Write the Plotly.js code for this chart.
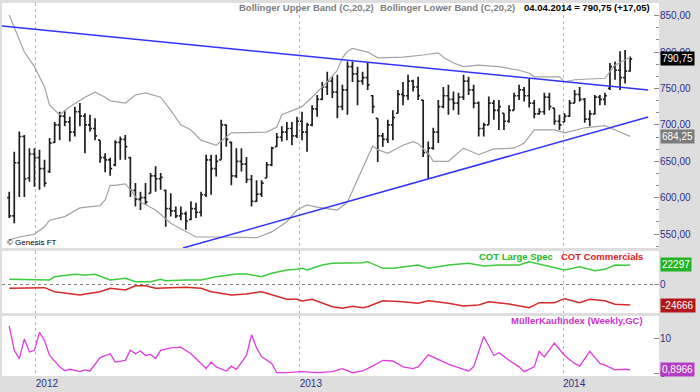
<!DOCTYPE html>
<html><head><meta charset="utf-8">
<script src="https://cdn.plot.ly/plotly-3.0.1.min.js"></script>
<style>html,body{margin:0;padding:0;background:#dedede;}#chart{width:700px;height:392px;}</style>
</head><body><div id="chart"></div>
<script>
// ---- weekly OHLC ----
const dates = ['2011-11-25','2011-12-02','2011-12-09','2011-12-16','2011-12-23','2011-12-30',
'2012-01-06','2012-01-13','2012-01-20','2012-01-27','2012-02-03','2012-02-10','2012-02-17','2012-02-24',
'2012-03-02','2012-03-09','2012-03-16','2012-03-23','2012-03-30','2012-04-06','2012-04-13','2012-04-20','2012-04-27',
'2012-05-04','2012-05-11','2012-05-18','2012-05-25','2012-06-01','2012-06-08','2012-06-15','2012-06-22','2012-06-29',
'2012-07-06','2012-07-13','2012-07-20','2012-07-27','2012-08-03','2012-08-10','2012-08-17','2012-08-24','2012-08-31',
'2012-09-07','2012-09-14','2012-09-21','2012-09-28','2012-10-05','2012-10-12','2012-10-19','2012-10-26',
'2012-11-02','2012-11-09','2012-11-16','2012-11-23','2012-11-30','2012-12-07','2012-12-14','2012-12-21','2012-12-28',
'2013-01-04','2013-01-11','2013-01-18','2013-01-25','2013-02-01','2013-02-08','2013-02-15','2013-02-22',
'2013-03-01','2013-03-08','2013-03-15','2013-03-22','2013-03-29','2013-04-05','2013-04-12','2013-04-19','2013-04-26',
'2013-05-03','2013-05-10','2013-05-17','2013-05-24','2013-05-31','2013-06-07','2013-06-14','2013-06-21','2013-06-28',
'2013-07-05','2013-07-12','2013-07-19','2013-07-26','2013-08-02','2013-08-09','2013-08-16','2013-08-23','2013-08-30',
'2013-09-06','2013-09-13','2013-09-20','2013-09-27','2013-10-04','2013-10-11','2013-10-18','2013-10-25',
'2013-11-01','2013-11-08','2013-11-15','2013-11-22','2013-11-29','2013-12-06','2013-12-13','2013-12-20','2013-12-27',
'2014-01-03','2014-01-10','2014-01-17','2014-01-24','2014-01-31','2014-02-07','2014-02-14','2014-02-21','2014-02-28',
'2014-03-07','2014-03-14','2014-03-21','2014-03-28','2014-04-04'];
const openP = [600,575,648,684,627,660,655,640,636,676,700,712,704,690,718,712,700,695,679,655,652,645,676,680,655,610,598,600,606,630,626,610,585,582,575,578,570,585,580,604,652,640,652,700,676,630,650,646,625,595,605,627,645,670,683,690,695,685,705,690,700,722,735,752,760,745,725,748,780,770,760,765,740,709,685,680,700,716,742,740,760,752,734,662,668,690,725,740,735,730,738,760,748,730,695,700,730,720,716,705,720,740,748,740,730,715,718,738,723,705,704,712,730,742,735,708,715,738,735,750,780,775,765,774];
const highP = [608,663,691,686,668,668,666,652,682,704,718,720,711,725,730,716,714,709,679,661,655,679,684,686,656,620,608,620,634,643,634,611,606,588,588,581,595,593,608,659,659,659,707,700,677,668,668,656,631,624,624,649,670,689,698,704,704,711,718,703,727,741,759,773,766,769,755,787,787,780,773,785,741,709,689,707,720,748,759,769,762,766,734,677,696,734,752,755,746,744,769,766,755,732,703,739,734,734,716,727,744,755,752,763,734,723,744,744,723,714,716,734,748,752,737,720,741,741,744,785,787,801,803,794];
const lowP = [572,565,601,601,622,615,611,615,634,675,679,698,677,684,698,661,691,679,648,635,630,643,652,652,601,588,583,590,606,608,611,560,574,572,569,556,569,572,574,601,604,629,652,670,617,627,636,620,588,594,601,627,643,670,677,679,672,682,679,663,698,711,734,741,737,709,720,714,759,727,755,748,716,649,670,675,679,716,727,734,746,734,656,626,666,675,723,714,720,714,734,741,723,684,684,700,707,693,693,703,720,734,732,724,709,714,714,720,700,693,704,711,730,732,703,698,714,727,727,748,762,748,757,773];
const closeP = [575,648,684,626,660,655,640,620,675,700,712,704,690,718,712,700,695,685,655,652,640,676,680,670,610,598,600,594,630,626,628,585,582,575,578,568,585,580,604,652,640,650,700,680,630,650,646,625,595,605,620,645,668,683,690,695,685,705,690,700,722,735,752,760,745,725,748,780,770,760,765,755,725,685,680,700,710,742,740,760,752,740,662,668,690,725,740,735,730,738,760,748,730,695,700,730,720,725,705,720,740,748,740,730,715,718,738,725,705,700,712,730,742,735,708,715,738,735,740,780,775,765,773.7,790.75];

// ---- Bollinger bands ----
const upperDates = ['2011-11-25','2011-12-02','2011-12-16','2011-12-30','2012-01-13','2012-01-20','2012-02-03','2012-02-17','2012-03-09','2012-03-23','2012-04-06','2012-04-13','2012-05-04','2012-05-18','2012-06-01','2012-06-22','2012-07-06','2012-07-20','2012-08-03','2012-08-17','2012-09-07','2012-09-28','2012-11-16','2012-11-30','2012-12-07','2013-01-04','2013-01-18','2013-02-08','2013-02-22','2013-03-01','2013-03-08','2013-03-15','2013-04-05','2013-04-19','2013-04-26','2013-05-24','2013-06-21','2013-07-12','2013-07-19','2013-08-02','2013-08-16','2013-09-06','2013-10-04','2013-11-01','2013-11-15','2013-11-22','2013-12-27','2014-01-03','2014-01-17','2014-02-28','2014-03-07','2014-03-14','2014-03-28','2014-04-04'];
const upperVals = [851,834,800,780,752,727,714,725,738,745,738,733,730,741,744,738,720,700,693,679,672,689,690,697,714,725,738,759,775,792,801,805,800,792,792,793,796,799,793,785,780,782,780,775,771,766,766,759,762,764,773,782,789,793];
const lowerDates = ['2011-11-25','2011-12-09','2011-12-30','2012-01-13','2012-01-20','2012-02-10','2012-03-02','2012-03-30','2012-04-06','2012-04-13','2012-04-20','2012-05-04','2012-05-11','2012-05-18','2012-05-25','2012-06-15','2012-07-06','2012-07-27','2012-08-10','2012-09-07','2012-10-12','2012-11-02','2012-11-23','2012-12-14','2012-12-28','2013-01-11','2013-01-25','2013-02-22','2013-03-08','2013-03-22','2013-04-05','2013-04-12','2013-04-19','2013-05-03','2013-05-24','2013-06-07','2013-06-14','2013-06-28','2013-07-05','2013-07-26','2013-08-16','2013-09-06','2013-09-27','2013-10-25','2013-11-08','2013-11-22','2013-12-20','2014-01-03','2014-01-31','2014-02-28','2014-03-14','2014-04-04'];
const lowerVals = [542,546,550,560,569,574,586,589,597,617,617,619,611,601,594,583,565,553,546,546,546,545,553,567,583,590,587,583,594,624,656,671,666,661,672,677,674,661,650,650,668,659,667,668,675,693,693,689,696,699,693,684.25];

// ---- trend lines ----
const trendUpDates = ['2011-11-15','2014-04-29'];
const trendUpVals = [835.8,747.9];
const trendLowDates = ['2012-07-23','2014-04-29'];
const trendLowVals = [530.9,710.9];

// ---- COT ----
const specDates = ['2011-11-25','2011-12-30','2012-01-20','2012-01-27','2012-02-24','2012-03-09','2012-03-23','2012-04-13','2012-05-04','2012-05-18','2012-06-08','2012-06-22','2012-06-29','2012-07-27','2012-08-17','2012-09-07','2012-10-05','2012-10-19','2012-11-09','2012-11-23','2012-12-14','2012-12-28','2013-01-04','2013-01-11','2013-02-01','2013-02-15','2013-03-15','2013-03-29','2013-04-05','2013-04-26','2013-05-10','2013-06-14','2013-06-28','2013-07-26','2013-08-23','2013-09-13','2013-10-04','2013-11-01','2013-11-15','2013-12-06','2014-01-03','2014-01-24','2014-02-14','2014-02-28','2014-03-14','2014-03-28','2014-04-04'];
const specVals = [5500,5500,4700,8600,11400,10600,11400,4700,6700,2700,2700,5500,3900,4700,4700,8600,11700,11700,8600,12600,16400,17200,18400,16400,22300,24300,24300,25000,26200,18400,18400,22300,18400,22300,24300,21100,22300,22300,26200,22300,16400,20300,15600,17200,22300,21900,22297];
const commDates = ['2011-11-25','2011-12-30','2012-01-13','2012-01-27','2012-02-10','2012-03-02','2012-03-16','2012-03-30','2012-04-13','2012-05-04','2012-05-18','2012-06-01','2012-06-15','2012-07-27','2012-08-17','2012-08-31','2012-09-28','2012-10-19','2012-11-09','2012-11-23','2012-12-14','2012-12-28','2013-01-04','2013-01-18','2013-02-01','2013-02-15','2013-03-01','2013-03-15','2013-03-29','2013-04-05','2013-04-26','2013-05-24','2013-06-14','2013-06-28','2013-07-26','2013-08-16','2013-09-06','2013-09-20','2013-10-18','2013-11-15','2013-11-29','2013-12-20','2014-01-03','2014-01-24','2014-02-07','2014-02-28','2014-03-14','2014-04-04'];
const commVals = [-5000,-5000,-4300,-9000,-10900,-12900,-10900,-9000,-5000,-7000,-2000,-2000,-5000,-3900,-5000,-9000,-12900,-11700,-9000,-12900,-17900,-17900,-19900,-17900,-22600,-26600,-28500,-26200,-27800,-26600,-19600,-20800,-22600,-19600,-22600,-25800,-24600,-20800,-23500,-27800,-21900,-21900,-17200,-21900,-17900,-19600,-23800,-24666];

// ---- MüllerKaufIndex ----
const mkiDates = ['2011-11-25','2011-12-02','2011-12-09','2011-12-16','2011-12-23','2011-12-30','2012-01-06','2012-01-13','2012-01-20','2012-02-03','2012-02-10','2012-02-17','2012-03-02','2012-03-09','2012-03-16','2012-03-30','2012-04-13','2012-04-20','2012-05-04','2012-05-11','2012-05-18','2012-05-25','2012-06-01','2012-06-08','2012-06-15','2012-06-22','2012-07-06','2012-07-20','2012-08-03','2012-08-10','2012-08-24','2012-08-31','2012-09-07','2012-09-21','2012-09-28','2012-10-05','2012-10-19','2012-10-26','2012-11-02','2012-11-09','2012-11-23','2012-11-30','2012-12-14','2013-01-04','2013-01-25','2013-02-15','2013-03-01','2013-03-15','2013-03-29','2013-04-12','2013-04-26','2013-05-10','2013-05-24','2013-06-07','2013-06-14','2013-06-28','2013-07-12','2013-07-26','2013-08-09','2013-08-23','2013-08-30','2013-09-13','2013-09-27','2013-10-04','2013-10-18','2013-11-01','2013-11-08','2013-11-22','2013-11-29','2013-12-06','2013-12-20','2014-01-03','2014-01-17','2014-01-24','2014-02-07','2014-02-21','2014-02-28','2014-03-14','2014-03-28','2014-04-04'];
const mkiVals = [13.7,6.6,4.2,9.9,6.1,6.6,11.8,9.4,5.1,1.8,0.7,1.1,0.4,0.9,0.6,4.5,5.6,3.2,3.7,6.6,5.6,6.4,5.1,5.4,4.2,6.6,7.3,7.5,5.6,4.2,1.3,3.2,1.8,0.6,2.0,1.1,5.1,11.1,7.3,4.7,2.8,0.1,0.1,0.4,0.1,0.4,1.3,0.1,0.6,2.0,3.7,3.5,1.8,1.3,1.8,5.3,3.9,2.6,1.6,0.6,1.8,10.6,5.1,5.9,3.7,1.8,0.4,1.8,6.3,4.7,8.7,5.1,2.8,2.0,6.3,2.8,2.3,0.9,1.1,0.8966];

// ---- axis labels ----
const yearTicks = ['2012-01-01','2013-01-01','2014-01-01'];
const yearLabels = ['2012','2013','2014'];
const priceTicks = [550,600,650,700,750,800,850];

const FONT = 'Liberation Sans, Arial, sans-serif';
const axisFont = {family: FONT, size: 10, color: '#303088'};

const traces = [
  {type:'scatter', mode:'lines', x:upperDates, y:upperVals, xaxis:'x', yaxis:'y', line:{color:'#a3a3a3', width:1.2}, hoverinfo:'skip'},
  {type:'scatter', mode:'lines', x:lowerDates, y:lowerVals, xaxis:'x', yaxis:'y', line:{color:'#a3a3a3', width:1.2}, hoverinfo:'skip'},
  {type:'scatter', mode:'lines', x:trendUpDates, y:trendUpVals, xaxis:'x', yaxis:'y', line:{color:'#3333ff', width:1.5}, hoverinfo:'skip'},
  {type:'scatter', mode:'lines', x:trendLowDates, y:trendLowVals, xaxis:'x', yaxis:'y', line:{color:'#3333ff', width:1.5}, hoverinfo:'skip'},
  {type:'ohlc', x:dates, open:openP, high:highP, low:lowP, close:closeP, xaxis:'x', yaxis:'y', tickwidth:0.4,
   increasing:{line:{color:'#1e1e1e', width:1.7}}, decreasing:{line:{color:'#1e1e1e', width:1.7}}, hoverinfo:'skip'},
  {type:'scatter', mode:'lines', x:specDates, y:specVals, xaxis:'x2', yaxis:'y2', line:{color:'#3ccc3c', width:1.5}, hoverinfo:'skip'},
  {type:'scatter', mode:'lines', x:commDates, y:commVals, xaxis:'x2', yaxis:'y2', line:{color:'#d42a2a', width:1.5}, hoverinfo:'skip'},
  {type:'scatter', mode:'lines', x:mkiDates, y:mkiVals, xaxis:'x3', yaxis:'y3', line:{color:'#dd3ddd', width:1.3}, hoverinfo:'skip'}
];

const xRange = ['2011-11-15','2014-05-14'];
const xbase = {type:'date', showgrid:true, gridcolor:'#b8b8b8', griddash:'3px,3px', gridwidth:1,
  tickmode:'array', tickvals:yearTicks, ticktext:yearLabels, zeroline:false, showline:false, fixedrange:true};

const layout = {
  width:700, height:392, margin:{l:2, r:41, t:3, b:16},
  paper_bgcolor:'#dedede', plot_bgcolor:'#ffffff', showlegend:false, separators:',.',
  font:{family:FONT, size:10, color:'#303088'},
  xaxis: Object.assign({}, xbase, {anchor:'y', range:xRange, showticklabels:false, rangeslider:{visible:false}}),
  xaxis2: Object.assign({}, xbase, {anchor:'y2', matches:'x', showticklabels:false}),
  xaxis3: Object.assign({}, xbase, {anchor:'y3', matches:'x', showticklabels:true, ticks:'', tickfont:axisFont, ticklabelshift:11}),
  yaxis: {domain:[0.3432,1], range:[530.9,867.4], side:'right', tickmode:'array', tickvals:priceTicks, tickformat:'.2f',
    ticks:'inside', ticklen:5, tickcolor:'#8a8a8a', showgrid:false, zeroline:false, tickfont:axisFont, fixedrange:true,
    minor:{ticks:'inside', ticklen:3, tickcolor:'#8a8a8a', tick0:550, dtick:50/3, showgrid:false}},
  yaxis2: {domain:[0.1689,0.3351], range:[-34017,38709], side:'right', tickmode:'array', tickvals:[0],
    ticks:'inside', ticklen:5, tickcolor:'#8a8a8a', showgrid:true, gridcolor:'#808080', griddash:'3px,3px', zeroline:false, tickfont:axisFont, fixedrange:true},
  yaxis3: {domain:[0,0.1609], range:[-0.857,16.57], side:'right', tickmode:'array', tickvals:[0,10],
    ticks:'inside', ticklen:5, tickcolor:'#8a8a8a', showgrid:false, zeroline:false, tickfont:axisFont, fixedrange:true},
  annotations: [
    {xref:'paper', yref:'paper', x:0.358, y:0.989, xanchor:'left', yanchor:'middle', showarrow:false,
     text:'<b>Bollinger Upper Band (C,20,2)</b>', font:{family:FONT, size:9.5, color:'#808080'}},
    {xref:'paper', yref:'paper', x:0.572, y:0.989, xanchor:'left', yanchor:'middle', showarrow:false,
     text:'<b>Bollinger Lower Band (C,20,2)</b>', font:{family:FONT, size:9.5, color:'#808080'}},
    {xref:'paper', yref:'paper', x:0.791, y:0.989, xanchor:'left', yanchor:'middle', showarrow:false,
     text:'<b>04.04.2014 = 790,75 (+17,05)</b>', font:{family:FONT, size:9.5, color:'#000000'}},
    {xref:'paper', yref:'paper', x:0.004, y:0.357, xanchor:'left', yanchor:'middle', showarrow:false,
     text:'© Genesis FT', font:{family:FONT, size:8, color:'#000000'}},
    {xref:'paper', yref:'paper', x:0.723, y:0.3217, xanchor:'left', yanchor:'middle', showarrow:false,
     text:'<b>COT Large Spec</b>', font:{family:FONT, size:9.5, color:'#22bb22'}},
    {xref:'paper', yref:'paper', x:0.848, y:0.3217, xanchor:'left', yanchor:'middle', showarrow:false,
     text:'<b>COT Commercials</b>', font:{family:FONT, size:9.5, color:'#dd2222'}},
    {xref:'paper', yref:'paper', x:0.772, y:0.150, xanchor:'left', yanchor:'middle', showarrow:false,
     text:'<b>MüllerKaufIndex (Weekly,GC)</b>', font:{family:FONT, size:9.5, color:'#cc33cc'}},
    {xref:'paper', yref:'y', x:1.002, y:790.75, xanchor:'left', yanchor:'middle', showarrow:false, bgcolor:'#000000', borderpad:1,
     text:'790,75', font:{family:FONT, size:10, color:'#ffffff'}},
    {xref:'paper', yref:'y', x:1.002, y:684.25, xanchor:'left', yanchor:'middle', showarrow:false, bgcolor:'#7c7c7c', borderpad:1,
     text:'684,25', font:{family:FONT, size:10, color:'#ffffff'}},
    {xref:'paper', yref:'y2', x:1.002, y:22297, xanchor:'left', yanchor:'middle', showarrow:false, bgcolor:'#22b422', borderpad:1,
     text:'22297', font:{family:FONT, size:10, color:'#ffffff'}},
    {xref:'paper', yref:'y2', x:1.002, y:-24666, xanchor:'left', yanchor:'middle', showarrow:false, bgcolor:'#b41818', borderpad:1,
     text:'-24666', font:{family:FONT, size:10, color:'#ffffff'}},
    {xref:'paper', yref:'y3', x:1.002, y:0.8966, xanchor:'left', yanchor:'middle', showarrow:false, bgcolor:'#b43cc4', borderpad:1,
     text:'0,8966', font:{family:FONT, size:10, color:'#ffffff'}}
  ]
};

Plotly.newPlot('chart', traces, layout, {staticPlot:true, displayModeBar:false});
</script></body></html>
